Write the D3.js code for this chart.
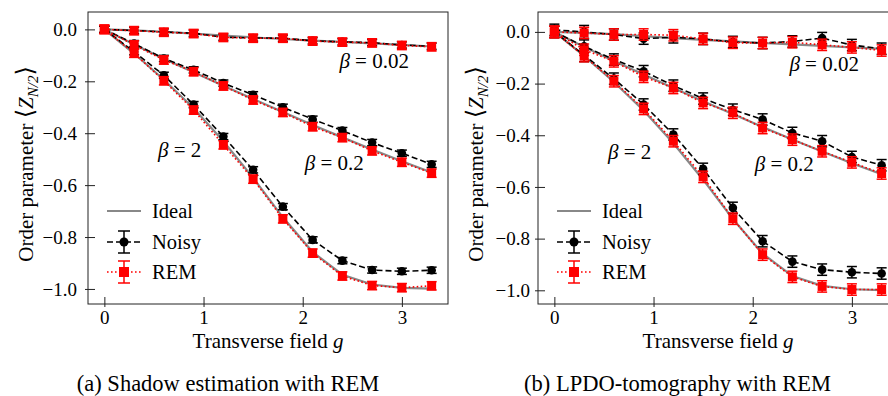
<!DOCTYPE html>
<html>
<head>
<meta charset="utf-8">
<script src="https://cdn.jsdelivr.net/npm/d3@7"></script>
<style>
  body { margin: 0; background: #fff; }
  text { font-family: "Liberation Serif", "Times New Roman", serif; fill: #000; }
</style>
</head>
<body>
<div id="chart"></div>
<script>
// transverse field values
const gVals = [0, 0.3, 0.6, 0.9, 1.2, 1.5, 1.8, 2.1, 2.4, 2.7, 3.0, 3.3];
const betas = ["0.02", "0.2", "2"];

// ideal curves (same in both panels)
const ideal002 = [0, -0.004, -0.009, -0.016, -0.024, -0.031, -0.037, -0.043, -0.048, -0.054, -0.060, -0.066];
const ideal02  = [0, -0.058, -0.113, -0.165, -0.217, -0.268, -0.318, -0.368, -0.416, -0.463, -0.508, -0.551];
const ideal2   = [0, -0.093, -0.194, -0.304, -0.431, -0.572, -0.724, -0.858, -0.945, -0.983, -0.996, -0.999];

// (a) shadow estimation
const shadowNoisy002 = [0, -0.004, -0.010, -0.015, -0.030, -0.033, -0.034, -0.044, -0.048, -0.051, -0.060, -0.065];
const shadowNoisy02  = [0, -0.055, -0.112, -0.156, -0.207, -0.252, -0.300, -0.346, -0.390, -0.436, -0.477, -0.520];
const shadowNoisy2   = [0, -0.086, -0.177, -0.290, -0.413, -0.541, -0.683, -0.811, -0.891, -0.927, -0.932, -0.928];
const shadowRem002   = [0, -0.005, -0.011, -0.016, -0.031, -0.034, -0.034, -0.045, -0.049, -0.052, -0.062, -0.067];
const shadowRem02    = [0, -0.060, -0.118, -0.163, -0.218, -0.272, -0.320, -0.375, -0.417, -0.468, -0.512, -0.554];
const shadowRem2     = [0, -0.092, -0.198, -0.311, -0.445, -0.577, -0.730, -0.862, -0.950, -0.987, -0.995, -0.988];
const shadowNoisyErr = [0.012, 0.012, 0.012, 0.012, 0.012, 0.012, 0.012, 0.012, 0.012, 0.012, 0.012, 0.012];
const shadowRemErr   = [0.016, 0.016, 0.016, 0.016, 0.016, 0.016, 0.016, 0.016, 0.016, 0.016, 0.016, 0.016];

// (b) LPDO tomography
const lpdoNoisy002 = [0.008, 0.0, -0.010, -0.026, -0.021, -0.027, -0.039, -0.043, -0.037, -0.024, -0.051, -0.065];
const lpdoNoisy02  = [0, -0.056, -0.107, -0.152, -0.208, -0.258, -0.301, -0.339, -0.391, -0.423, -0.484, -0.516];
const lpdoNoisy2   = [0, -0.090, -0.181, -0.281, -0.397, -0.530, -0.681, -0.810, -0.889, -0.920, -0.930, -0.935];
const lpdoRem002   = [0, -0.004, -0.010, -0.010, -0.013, -0.027, -0.042, -0.043, -0.040, -0.050, -0.060, -0.072];
const lpdoRem02    = [0, -0.069, -0.114, -0.174, -0.217, -0.275, -0.313, -0.372, -0.417, -0.462, -0.505, -0.548];
const lpdoRem2     = [0, -0.094, -0.191, -0.298, -0.423, -0.561, -0.723, -0.862, -0.948, -0.985, -0.997, -0.997];
const lpdoNoisyErr = [0.022, 0.025, 0.022, 0.022, 0.022, 0.022, 0.022, 0.022, 0.022, 0.022, 0.022, 0.022];
const lpdoRemErr   = [0.022, 0.022, 0.022, 0.022, 0.022, 0.022, 0.022, 0.022, 0.022, 0.022, 0.022, 0.022];

// beta annotation positions (data coords: g, value)
const betaLabelPos = [[2.37, -0.15], [2.02, -0.54], [0.54, -0.49]];

const xTicks = [0, 1, 2, 3];
const yTicks = [0, -0.2, -0.4, -0.6, -0.8, -1.0];
const legendLabels = ["Ideal", "Noisy", "REM"];
const captions = ["(a) Shadow estimation with REM", "(b) LPDO-tomography with REM"];

const W = 888, H = 396;
const plotW = 360, plotTop = 12, plotH = 292;

const panels = [
  { left: 88,  yDomain: [-1.058, 0.067], noisy: [shadowNoisy002, shadowNoisy02, shadowNoisy2],
    rem: [shadowRem002, shadowRem02, shadowRem2], noisyErr: shadowNoisyErr, remErr: shadowRemErr,
    caption: captions[0], capX: 228, tickPad: 11 },
  { left: 538, yDomain: [-1.053, 0.077], noisy: [lpdoNoisy002, lpdoNoisy02, lpdoNoisy2],
    rem: [lpdoRem002, lpdoRem02, lpdoRem2], noisyErr: lpdoNoisyErr, remErr: lpdoRemErr,
    caption: captions[1], capX: 677.5, tickPad: 8 }
];
const ideals = [ideal002, ideal02, ideal2];

const svg = d3.select("#chart").append("svg")
  .attr("width", W).attr("height", H);

panels.forEach(p => {
  const x = d3.scaleLinear().domain([-0.165, 3.465]).range([p.left, p.left + plotW]);
  const y = d3.scaleLinear().domain(p.yDomain).range([plotTop + plotH, plotTop]);
  const g = svg.append("g");

  const line = d3.line().x((d, i) => x(gVals[i])).y(d => y(d));

  // ideal
  ideals.forEach(s => {
    g.append("path").attr("d", line(s)).attr("fill", "none")
      .attr("stroke", "#888").attr("stroke-width", 2.2);
  });

  function errbars(s, err, color) {
    s.forEach((v, i) => {
      const cx = x(gVals[i]);
      g.append("line").attr("x1", cx).attr("x2", cx)
        .attr("y1", y(v - err[i])).attr("y2", y(v + err[i]))
        .attr("stroke", color).attr("stroke-width", 1.5);
      [v - err[i], v + err[i]].forEach(e => {
        g.append("line").attr("x1", cx - 5).attr("x2", cx + 5)
          .attr("y1", y(e)).attr("y2", y(e))
          .attr("stroke", color).attr("stroke-width", 1.5);
      });
    });
  }

  // noisy
  p.noisy.forEach(s => {
    g.append("path").attr("d", line(s)).attr("fill", "none")
      .attr("stroke", "#000").attr("stroke-width", 1.6).attr("stroke-dasharray", "6,3");
    errbars(s, p.noisyErr, "#000");
    g.selectAll(null).data(s).join("circle")
      .attr("cx", (d, i) => x(gVals[i])).attr("cy", d => y(d))
      .attr("r", 4.3).attr("fill", "#000");
  });

  // REM
  p.rem.forEach(s => {
    g.append("path").attr("d", line(s)).attr("fill", "none")
      .attr("stroke", "#f00").attr("stroke-width", 1.6).attr("stroke-dasharray", "1.6,2.4");
    errbars(s, p.remErr, "#f00");
    g.selectAll(null).data(s).join("rect")
      .attr("x", (d, i) => x(gVals[i]) - 4.5).attr("y", d => y(d) - 4.5)
      .attr("width", 9).attr("height", 9).attr("fill", "#f00");
  });

  // beta labels
  betas.forEach((b, i) => {
    const t = g.append("text")
      .attr("x", x(betaLabelPos[i][0])).attr("y", y(betaLabelPos[i][1]))
      .style("font-size", "21px");
    t.append("tspan").style("font-style", "italic").text("β");
    t.append("tspan").text(" = " + b);
  });

  // frame
  g.append("rect").attr("x", p.left).attr("y", plotTop)
    .attr("width", plotW).attr("height", plotH)
    .attr("fill", "none").attr("stroke", "#222").attr("stroke-width", 1);

  // axes
  const ya = g.append("g").attr("transform", `translate(${p.left},0)`)
    .call(d3.axisLeft(y).tickValues(yTicks).tickFormat(d3.format(".1f"))
      .tickSize(-7).tickPadding(p.tickPad));
  ya.select(".domain").remove();
  ya.selectAll(".tick line").attr("x1", -3).attr("stroke", "#222");
  ya.selectAll("text").style("font-size", "19px").style("font-family", "Liberation Serif");

  const xa = g.append("g").attr("transform", `translate(0,${plotTop + plotH})`)
    .call(d3.axisBottom(x).tickValues(xTicks).tickFormat(d3.format("d"))
      .tickSize(-7).tickPadding(7));
  xa.select(".domain").remove();
  xa.selectAll(".tick line").attr("y1", 3).attr("stroke", "#222");
  xa.selectAll("text").style("font-size", "19px").style("font-family", "Liberation Serif");

  // x label
  const xl = g.append("text").attr("x", p.left + plotW / 2).attr("y", 348)
    .attr("text-anchor", "middle").style("font-size", "21px");
  xl.append("tspan").text("Transverse field ");
  xl.append("tspan").style("font-style", "italic").text("g");

  // y label
  const yl = g.append("text")
    .attr("transform", `translate(${p.left - 55},${plotTop + plotH / 2 + 6}) rotate(-90)`)
    .attr("text-anchor", "middle").style("font-size", "21px");
  yl.append("tspan").text("Order parameter ");
  yl.append("tspan").style("font-family", "DejaVu Serif").style("font-size", "24px").text("⟨");
  yl.append("tspan").style("font-style", "italic").text("Z");
  yl.append("tspan").style("font-style", "italic").style("font-size", "15px").attr("dy", 5).text("N/2");
  yl.append("tspan").attr("dy", -5).style("font-family", "DejaVu Serif").style("font-size", "24px").text("⟩");

  // legend
  const lx0 = p.left + 19, lx1 = p.left + 53, ltx = p.left + 64;
  const ly = [211, 242, 272];
  g.append("line").attr("x1", lx0).attr("x2", lx1).attr("y1", ly[0]).attr("y2", ly[0])
    .attr("stroke", "#888").attr("stroke-width", 2.2);
  const mx = (lx0 + lx1) / 2;
  [[1, "#000", "6,3"], [2, "#f00", "1.6,2.4"]].forEach(([k, c, dash]) => {
    g.append("line").attr("x1", lx0).attr("x2", lx1).attr("y1", ly[k]).attr("y2", ly[k])
      .attr("stroke", c).attr("stroke-width", 1.6).attr("stroke-dasharray", dash);
    g.append("line").attr("x1", mx).attr("x2", mx).attr("y1", ly[k] - 11).attr("y2", ly[k] + 11)
      .attr("stroke", c).attr("stroke-width", 1.5);
    [-11, 11].forEach(o => g.append("line").attr("x1", mx - 6).attr("x2", mx + 6)
      .attr("y1", ly[k] + o).attr("y2", ly[k] + o).attr("stroke", c).attr("stroke-width", 1.5));
    if (k === 1) g.append("circle").attr("cx", mx).attr("cy", ly[k]).attr("r", 4.5).attr("fill", c);
    else g.append("rect").attr("x", mx - 5).attr("y", ly[k] - 5).attr("width", 10).attr("height", 10).attr("fill", c);
  });
  legendLabels.forEach((t, i) => {
    g.append("text").attr("x", ltx).attr("y", ly[i]).attr("dy", "0.35em")
      .style("font-size", "20.5px").text(t);
  });

  // caption
  g.append("text").attr("x", p.capX).attr("y", 391).attr("text-anchor", "middle")
    .style("font-size", "22.5px").text(p.caption);
});
</script>
</body>
</html>
